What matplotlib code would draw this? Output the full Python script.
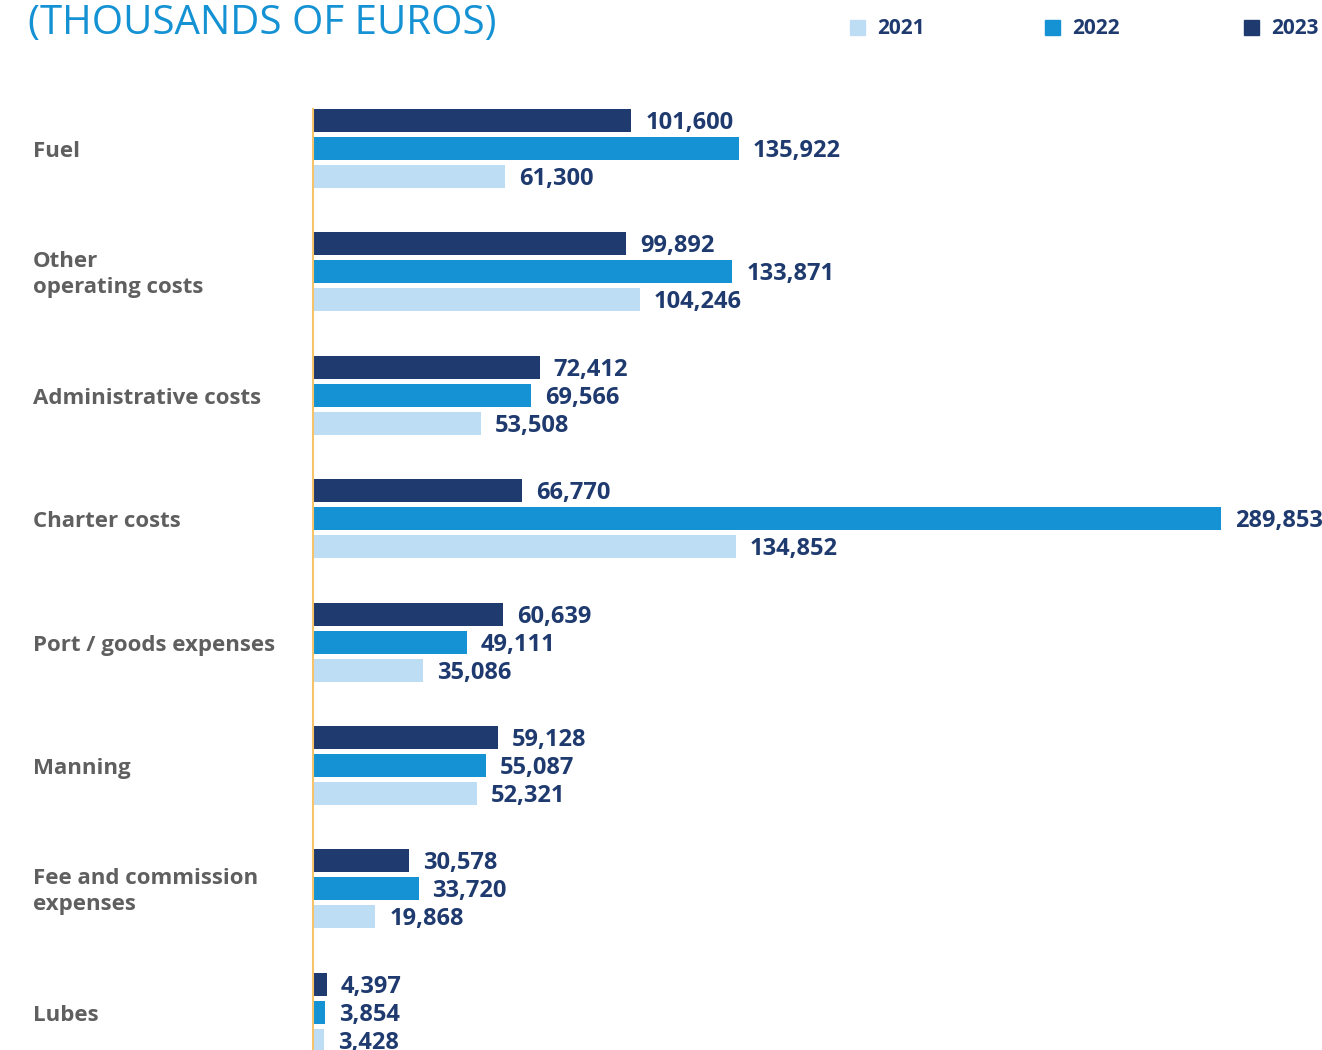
import matplotlib.pyplot as plt
from matplotlib.patches import Rectangle
import numpy as np

# Cost breakdown by category (thousands of euros)
categories = [
    "Fuel",
    "Other\noperating costs",
    "Administrative costs",
    "Charter costs",
    "Port / goods expenses",
    "Manning",
    "Fee and commission\nexpenses",
    "Lubes",
]
years = ["2021", "2022", "2023"]
values_2021 = [61300, 104246, 53508, 134852, 35086, 52321, 19868, 3428]
values_2022 = [135922, 133871, 69566, 289853, 49111, 55087, 33720, 3854]
values_2023 = [101600, 99892, 72412, 66770, 60639, 59128, 30578, 4397]

colors = {"2021": "#BDDDF5", "2022": "#1592D3", "2023": "#1F3A6E"}
label_color = "#1F3A6E"
cat_color = "#5F5F5F"
font = ["Open Sans", "DejaVu Sans"]

W, H = 1322, 1050
fig = plt.figure(figsize=(W / 100, H / 100), dpi=100)

# axes spans from the orange baseline to the right edge, clipped at the bottom
ax = fig.add_axes([313 / W, 0, 1 - 313 / W, 941 / H])

y = np.arange(len(categories))
offset = 0.227
height = 0.186
series = [("2023", values_2023, -offset), ("2022", values_2022, 0), ("2021", values_2021, offset)]
for year, vals, off in series:
    bars = ax.barh(y + off, vals, height=height, color=colors[year], zorder=2)
    for rect, v in zip(bars, vals):
        ax.annotate(f"{v:,}", (rect.get_width(), rect.get_y() + rect.get_height() / 2),
                    xytext=(10, -1.8), textcoords="offset points", va="center", ha="left",
                    fontsize=17, fontweight="bold", color=label_color, family=font,
                    annotation_clip=False)

ax.set_xlim(0, 322000)
ax.set_ylim(7.306, -0.32)
for s in ["top", "right", "bottom"]:
    ax.spines[s].set_visible(False)
ax.spines["left"].set_color("#F5C46A")
ax.spines["left"].set_linewidth(1.5)
ax.set_xticks([])
ax.set_yticks([])

# category labels on the left
for i, cat in enumerate(categories):
    ax.annotate(cat, (0, i), xycoords=("figure fraction", "data"), xytext=(33, -3),
                textcoords="offset pixels", va="center", ha="left", fontsize=16,
                fontweight="bold", color=cat_color, family=font, linespacing=1.3)

fig.text(28 / W, 1 - 24 / H, "(THOUSANDS OF EUROS)", fontsize=29, color="#1592D3",
         family=font, va="center", ha="left")

# legend drawn in figure pixels
for year, x0 in zip(years, [850, 1045, 1244]):
    fig.add_artist(Rectangle((x0 / W, 1 - 35 / H), 15 / W, 15 / H, color=colors[year],
                             transform=fig.transFigure))
    fig.text((x0 + 27) / W, 1 - 29 / H, year, fontsize=15, fontweight="bold",
             color=label_color, family=font, va="center", ha="left")

fig.savefig("out.png", dpi=100, facecolor="white")
